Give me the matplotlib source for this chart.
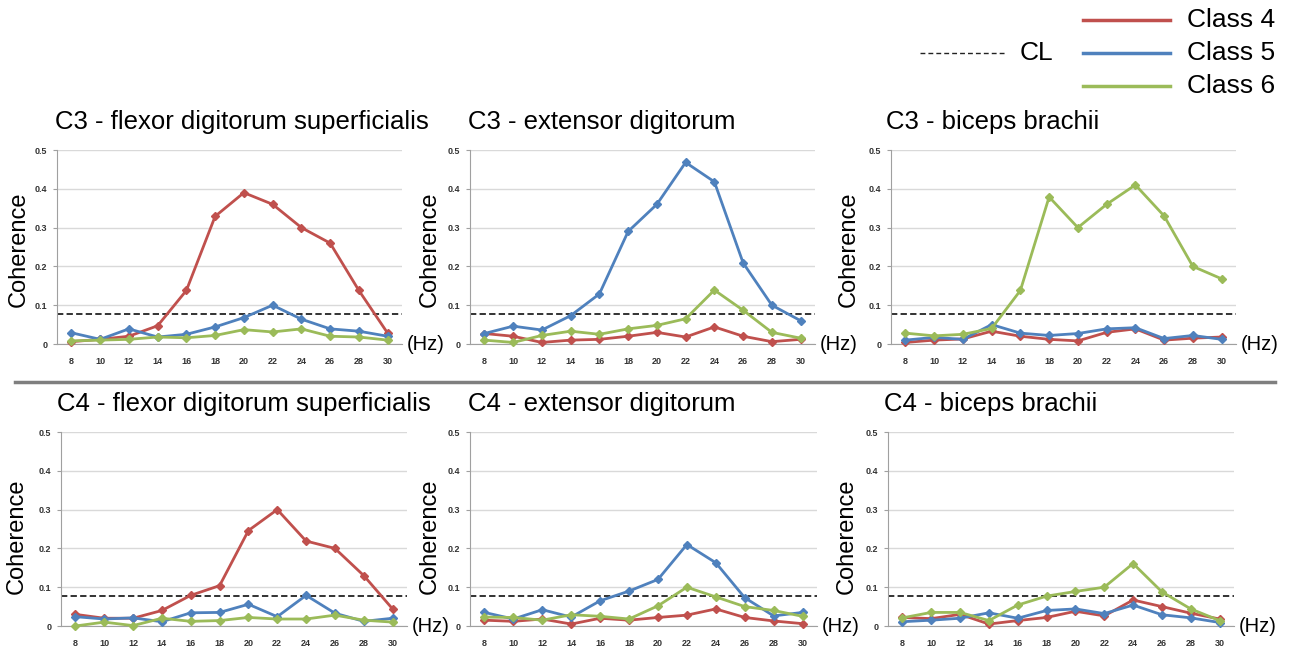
import matplotlib
matplotlib.use("Agg")
import matplotlib.pyplot as plt
from matplotlib.lines import Line2D

plt.rcParams['font.family'] = ['Liberation Sans', 'DejaVu Sans']

freqs = [8, 10, 12, 14, 16, 18, 20, 22, 24, 26, 28, 30]
ytick_vals = [0, 0.1, 0.2, 0.3, 0.4, 0.5]
ytick_labels = ["0", "0.1", "0.2", "0.3", "0.4", "0.5"]
cl_level = 0.078

series_names = ["Class 4", "Class 5", "Class 6"]
colors = ["#C0504D", "#4F81BD", "#9BBB59"]

titles = [
    "C3 - flexor digitorum superficialis", "C3 - extensor digitorum", "C3 - biceps brachii",
    "C4 - flexor digitorum superficialis", "C4 - extensor digitorum", "C4 - biceps brachii",
]

# C3 - flexor digitorum superficialis
c3_fds_class4 = [0.006, 0.012, 0.020, 0.047, 0.138, 0.329, 0.390, 0.360, 0.300, 0.260, 0.138, 0.028]
c3_fds_class5 = [0.029, 0.012, 0.039, 0.018, 0.025, 0.044, 0.068, 0.100, 0.064, 0.039, 0.033, 0.020]
c3_fds_class6 = [0.008, 0.010, 0.012, 0.018, 0.016, 0.022, 0.037, 0.031, 0.039, 0.020, 0.018, 0.010]
# C3 - extensor digitorum
c3_ed_class4 = [0.027, 0.020, 0.004, 0.010, 0.012, 0.020, 0.030, 0.018, 0.044, 0.020, 0.006, 0.012]
c3_ed_class5 = [0.027, 0.046, 0.036, 0.073, 0.129, 0.290, 0.360, 0.468, 0.418, 0.209, 0.100, 0.060]
c3_ed_class6 = [0.010, 0.004, 0.022, 0.033, 0.025, 0.039, 0.048, 0.065, 0.139, 0.087, 0.030, 0.015]
# C3 - biceps brachii
c3_bb_class4 = [0.004, 0.010, 0.013, 0.033, 0.020, 0.012, 0.008, 0.030, 0.039, 0.010, 0.015, 0.018]
c3_bb_class5 = [0.010, 0.017, 0.012, 0.050, 0.028, 0.022, 0.027, 0.039, 0.042, 0.014, 0.022, 0.012]
c3_bb_class6 = [0.028, 0.021, 0.025, 0.040, 0.138, 0.379, 0.300, 0.360, 0.410, 0.330, 0.200, 0.168]
# C4 - flexor digitorum superficialis
c4_fds_class4 = [0.030, 0.020, 0.020, 0.040, 0.079, 0.104, 0.246, 0.300, 0.219, 0.200, 0.130, 0.044]
c4_fds_class5 = [0.024, 0.018, 0.021, 0.011, 0.034, 0.035, 0.056, 0.024, 0.079, 0.033, 0.012, 0.020]
c4_fds_class6 = [0.000, 0.010, 0.001, 0.020, 0.012, 0.014, 0.022, 0.018, 0.018, 0.028, 0.015, 0.010]
# C4 - extensor digitorum
c4_ed_class4 = [0.015, 0.012, 0.018, 0.005, 0.020, 0.015, 0.022, 0.028, 0.044, 0.022, 0.013, 0.006]
c4_ed_class5 = [0.035, 0.018, 0.042, 0.023, 0.065, 0.090, 0.120, 0.210, 0.163, 0.073, 0.026, 0.035]
c4_ed_class6 = [0.023, 0.022, 0.015, 0.029, 0.025, 0.018, 0.052, 0.100, 0.075, 0.050, 0.040, 0.025]
# C4 - biceps brachii
c4_bb_class4 = [0.022, 0.019, 0.030, 0.005, 0.014, 0.022, 0.038, 0.026, 0.067, 0.050, 0.033, 0.018]
c4_bb_class5 = [0.011, 0.015, 0.020, 0.034, 0.020, 0.040, 0.044, 0.032, 0.054, 0.029, 0.021, 0.009]
c4_bb_class6 = [0.021, 0.035, 0.035, 0.014, 0.054, 0.077, 0.089, 0.100, 0.161, 0.088, 0.044, 0.014]

panels = [
    (c3_fds_class4, c3_fds_class5, c3_fds_class6),
    (c3_ed_class4, c3_ed_class5, c3_ed_class6),
    (c3_bb_class4, c3_bb_class5, c3_bb_class6),
    (c4_fds_class4, c4_fds_class5, c4_fds_class6),
    (c4_ed_class4, c4_ed_class5, c4_ed_class6),
    (c4_bb_class4, c4_bb_class5, c4_bb_class6),
]

W, H = 1290, 651
fig = plt.figure(figsize=(W / 100, H / 100), dpi=100)

# pixel boxes (left, right, top, bottom)
boxes = [
    (57, 402, 150, 344), (470, 815, 150, 344), (891, 1236, 150, 344),
    (61, 407, 432, 626), (470, 817, 432, 626), (888, 1234, 432, 626),
]
ylabel_x = [19, 430, 849, 17, 430, 847]
ylabel_dy = [2, 2, 2, 7, 7, 7]
title_x = [55, 468, 886, 57, 468, 884]

for i, (box, data) in enumerate(zip(boxes, panels)):
    l, r, t, b = box
    ax = fig.add_axes([l / W, 1 - b / H, (r - l) / W, (b - t) / H])
    ax.set_xlim(7, 31)
    ax.set_ylim(0, 0.5)
    ax.set_yticks(ytick_vals)
    ax.set_yticklabels(ytick_labels)
    ax.set_xticks(freqs)
    ax.set_xticklabels([str(f) for f in freqs])
    ax.tick_params(axis='both', labelsize=6.5, labelcolor='#333333', color='#A0A0A0', width=0.8)
    ax.tick_params(axis='x', length=0, pad=9)
    ax.tick_params(axis='y', length=3, pad=4)
    for lab in ax.get_xticklabels() + ax.get_yticklabels():
        lab.set_fontweight('bold')
    ax.grid(axis='y', color='#D9D9D9', linewidth=1.0)
    ax.set_axisbelow(True)
    for s in ['top', 'right']:
        ax.spines[s].set_visible(False)
    ax.spines['left'].set_color('#A0A0A0')
    ax.spines['bottom'].set_color('#A0A0A0')
    ax.axhline(cl_level, color='#222222', linestyle=(0, (3.5, 1.8)), linewidth=1.3, zorder=2)
    for vals, c in zip(data, colors):
        ax.plot(freqs, vals, color=c, linewidth=2.0, marker='D', markersize=4.5,
                markeredgecolor=c, zorder=3, clip_on=False)
    fig.text(ylabel_x[i] / W, 1 - ((t + b) / 2 + ylabel_dy[i]) / H, "Coherence", rotation=90,
             fontsize=17, ha='center', va='center')
    fig.text((r + 5) / W, 1 - (b) / H, "(Hz)", fontsize=14.5, ha='left', va='center')
    fig.text(title_x[i] / W, 1 - (t - 28) / H, titles[i], fontsize=18.5, ha='left', va='center')

# separator line
fig.add_artist(Line2D([15 / W, 1275 / W], [1 - 382 / H, 1 - 382 / H], color='#7F7F7F', linewidth=2.5))

# legend
leg_y = [20, 53, 86]
for yy, c, name in zip(leg_y, colors, series_names):
    fig.add_artist(Line2D([1083 / W, 1170 / W], [1 - yy / H, 1 - yy / H], color=c, linewidth=2.5))
    fig.text(1187 / W, 1 - yy / H, name, fontsize=19, ha='left', va='center')
fig.add_artist(Line2D([920 / W, 1005 / W], [1 - 53 / H, 1 - 53 / H], color='#222222', linewidth=1.0,
                      linestyle=(0, (3.5, 2.2))))
fig.text(1020 / W, 1 - 53 / H, "CL", fontsize=19, ha='left', va='center')

fig.savefig("out.png", dpi=100)
